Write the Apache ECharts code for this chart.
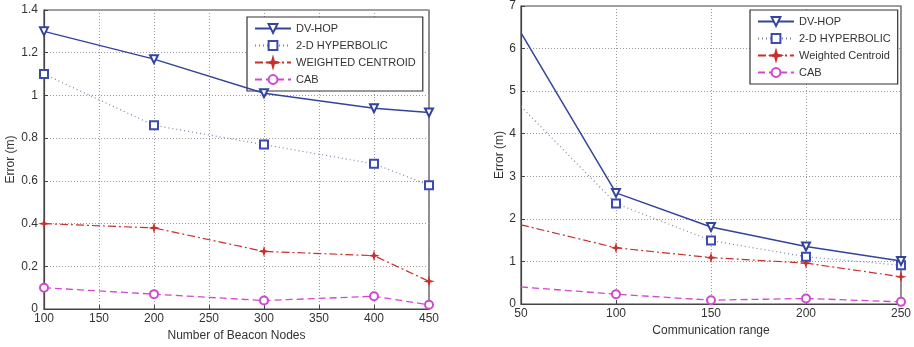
<!DOCTYPE html>
<html>
<head>
<meta charset="utf-8">
<script src="https://cdn.jsdelivr.net/npm/echarts@6/dist/echarts.min.js"></script>
<style>
  html, body { margin: 0; padding: 0; background: #fff; }
  #chart { width: 914px; height: 347px; }
</style>
</head>
<body>
<div id="chart"></div>
<script>
// left panel: error vs number of beacon nodes
const beaconNodes = [100, 200, 300, 400, 450];
const dvhopBeacon = [1.30, 1.17, 1.01, 0.94, 0.92];
const hyperBeacon = [1.10, 0.86, 0.77, 0.68, 0.58];
const centroidBeacon = [0.40, 0.38, 0.27, 0.25, 0.13];
const cabBeacon = [0.10, 0.07, 0.04, 0.06, 0.02];

// right panel: error vs communication range
const commRange = [50, 100, 150, 200, 250];
const dvhopRange = [6.37, 2.61, 1.81, 1.35, 1.01];
const hyperRange = [4.64, 2.36, 1.49, 1.11, 0.91];
const centroidRange = [1.86, 1.32, 1.09, 0.96, 0.64];
const cabRange = [0.40, 0.23, 0.09, 0.13, 0.05];

const namesLeft = ["DV-HOP", "2-D HYPERBOLIC", "WEIGHTED CENTROID", "CAB"];
const namesRight = ["DV-HOP", "2-D HYPERBOLIC", "Weighted Centroid", "CAB"];

const FONT = "'Liberation Sans', Arial, sans-serif";
const TEXT_COLOR = "#333";
const AXIS_COLOR = "#444";

const STAR = "path://M0,-6L1.3,-1.3L6,0L1.3,1.3L0,6L-1.3,1.3L-6,0L-1.3,-1.3Z";

const styles = [
  { color: "#34449c", type: "solid", width: 1.5, symbol: "emptyTriangle", rotate: 180, size: 8 },
  { color: "#3a4ab0", lineColor: "#7a84a8", type: [1, 3], width: 1.2, symbol: "emptyRect", rotate: 0, size: 8 },
  { color: "#c8302c", type: [8, 3, 2, 3], width: 1.2, symbol: STAR, rotate: 0, size: 7 },
  { color: "#d048d0", type: [7, 4], width: 1.3, symbol: "emptyCircle", rotate: 0, size: 8 },
];

function pairs(xs, ys, hideFirst) {
  return xs.map((x, i) => (hideFirst && i === 0 ? { value: [x, ys[i]], symbol: "none" } : [x, ys[i]]));
}

function makeSeries(name, idx, xs, ys, axisIndex, hideFirst) {
  const s = styles[idx];
  return {
    name,
    type: "line",
    xAxisIndex: axisIndex,
    yAxisIndex: axisIndex,
    data: pairs(xs, ys, hideFirst),
    symbol: s.symbol,
    symbolSize: s.size,
    symbolRotate: s.rotate,
    showSymbol: true,
    animation: false,
    z: 10 - idx,
    lineStyle: { color: s.lineColor || s.color, type: s.type, width: s.width },
    itemStyle: { color: s.color, borderColor: s.color, borderWidth: 1.2 },
  };
}

function xAxis(gridIndex, min, max, name, nameGap) {
  return {
    type: "value",
    gridIndex,
    min,
    max,
    interval: 50,
    name,
    nameLocation: "middle",
    nameGap,
    nameTextStyle: { color: TEXT_COLOR, fontSize: 12, fontFamily: FONT },
    axisLine: { show: true, lineStyle: { color: AXIS_COLOR, width: 1.2 } },
    axisTick: { show: true, inside: true, length: 4, lineStyle: { color: AXIS_COLOR } },
    axisLabel: { color: TEXT_COLOR, fontSize: 12, fontFamily: FONT, margin: 4 },
    splitLine: { show: true, lineStyle: { color: "#999", type: [1, 2], width: 1 } },
  };
}

function yAxis(gridIndex, max, interval, nameGap, margin) {
  return {
    type: "value",
    gridIndex,
    min: 0,
    max,
    interval,
    name: "Error (m)",
    nameLocation: "middle",
    nameGap,
    nameTextStyle: { color: TEXT_COLOR, fontSize: 12, fontFamily: FONT },
    axisLine: { show: true, lineStyle: { color: AXIS_COLOR, width: 1.2 } },
    axisTick: { show: true, inside: true, length: 4, lineStyle: { color: AXIS_COLOR } },
    axisLabel: { color: TEXT_COLOR, fontSize: 12, fontFamily: FONT, margin },
    splitLine: { show: true, lineStyle: { color: "#999", type: [1, 2], width: 1 } },
  };
}

function legend(names, left, top) {
  return {
    data: names,
    orient: "vertical",
    left,
    top,
    itemWidth: 36,
    itemHeight: 11,
    itemGap: 6,
    padding: [6, 7, 6, 7],
    borderColor: "#333",
    borderWidth: 1.2,
    backgroundColor: "#fff",
    textStyle: { color: TEXT_COLOR, fontSize: 11, fontFamily: FONT },
    selectedMode: false,
  };
}

const chart = echarts.init(document.getElementById("chart"), null, { renderer: "canvas" });

chart.setOption({
  backgroundColor: "#fff",
  animation: false,
  grid: [
    { left: 44, top: 10, width: 385, height: 304, show: true, borderColor: AXIS_COLOR, borderWidth: 1.2 },
    { left: 521, top: 3, width: 382, height: 301, show: true, borderColor: AXIS_COLOR, borderWidth: 1.2 },
  ],
  xAxis: [
    xAxis(0, 100, 450, "Number of Beacon Nodes", 20),
    xAxis(1, 50, 250, "Communication range", 20),
  ],
  yAxis: [
    yAxis(0, 1.4, 0.2, 27, 6),
    yAxis(1, 7, 1, 14, 5),
  ],
  legend: [legend(namesLeft, 247, 17), legend(namesRight, 750, 10)],
  series: [
    makeSeries(namesLeft[0], 0, beaconNodes, dvhopBeacon, 0, false),
    makeSeries(namesLeft[1], 1, beaconNodes, hyperBeacon, 0, false),
    makeSeries(namesLeft[2], 2, beaconNodes, centroidBeacon, 0, false),
    makeSeries(namesLeft[3], 3, beaconNodes, cabBeacon, 0, false),
    makeSeries(namesRight[0], 0, commRange, dvhopRange, 1, true),
    makeSeries(namesRight[1], 1, commRange, hyperRange, 1, true),
    makeSeries(namesRight[2], 2, commRange, centroidRange, 1, true),
    makeSeries(namesRight[3], 3, commRange, cabRange, 1, true),
  ],
});

window.addEventListener("resize", () => chart.resize());
</script>
</body>
</html>
